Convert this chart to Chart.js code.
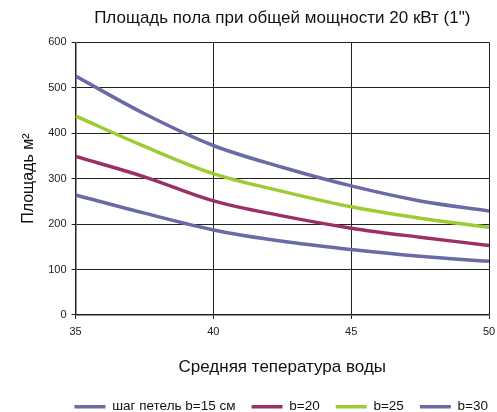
<!DOCTYPE html>
<html>
<head>
<meta charset="utf-8">
<script src="https://cdn.jsdelivr.net/npm/chart.js@4"></script>
<style>
  body { margin: 0; background: #fff; }
  #wrap { width: 497px; height: 412px; }
</style>
</head>
<body>
<div id="wrap"><canvas id="chart"></canvas></div>
<script>
const temps = [35, 37.5, 40, 42.5, 45, 47.5, 50];
const b15 = [264, 224, 187, 162, 144, 129, 118];
const b20 = [349, 304, 251, 218, 191, 171, 153];
const b25 = [438, 371, 311, 272, 238, 213, 193];
const b30 = [526, 443, 373, 325, 284, 251, 229];
const seriesNames = ['шаг петель b=15 см', 'b=20', 'b=25', 'b=30'];
const colors = ['#6a6aa6', '#9b2f66', '#9ccc33', '#6a6aa6'];

const FONT = 'Liberation Sans, Arial, sans-serif';

function toXY(vals){
  return vals.map((v, i) => ({x: temps[i], y: v}));
}

// legend sits lower and further right than the layout would put it
const legendShift = {
  id: 'legendShift',
  afterLayout(chart){
    const lg = chart.legend;
    if (!lg) return;
    const h = lg.bottom - lg.top;
    lg.top = 384;
    lg.bottom = 384 + h;
    lg.left += 15;
    lg.right += 15;
  }
};

const ctx = document.getElementById('chart').getContext('2d');
new Chart(ctx, {
  type: 'line',
  data: {
    datasets: [b15, b20, b25, b30].map((s, i) => ({
      label: seriesNames[i],
      data: toXY(s),
      borderColor: colors[i],
      backgroundColor: colors[i],
      borderWidth: 3.5,
      tension: 0.35,
      pointRadius: 0,
      fill: false
    }))
  },
  options: {
    animation: false,
    responsive: true,
    maintainAspectRatio: false,
    layout: { padding: { left: 19, right: 8, top: 4, bottom: -22 } },
    plugins: {
      title: {
        display: true,
        fullSize: false,
        text: 'Площадь пола при общей мощности 20 кВт (1")',
        color: '#111',
        font: { family: FONT, size: 17, weight: 'normal' },
        padding: { top: 4, bottom: 14 }
      },
      legend: {
        position: 'bottom',
        align: 'end',
        labels: {
          usePointStyle: true,
          pointStyle: 'line',
          pointStyleWidth: 31,
          boxWidth: 31,
          color: '#111',
          font: { family: FONT, size: 13.5 },
          padding: 16
        }
      },
      tooltip: { enabled: false }
    },
    scales: {
      x: {
        type: 'linear',
        min: 35, max: 50,
        afterFit(scale){ scale.paddingRight = 0; },
        ticks: { stepSize: 5, color: '#222', font: { family: FONT, size: 11 }, padding: 6 },
        grid: { color: '#222', lineWidth: 1, tickLength: 4 },
        border: { color: '#222', width: 1.5 },
        title: {
          display: true,
          text: 'Средняя тепература воды',
          color: '#111',
          font: { family: FONT, size: 17 },
          padding: { top: 13, bottom: 17 }
        }
      },
      y: {
        min: 0, max: 600,
        ticks: { stepSize: 100, color: '#222', font: { family: FONT, size: 11 }, padding: 5 },
        grid: { color: '#222', lineWidth: 1, tickLength: 4 },
        border: { color: '#222', width: 1.5 },
        title: {
          display: true,
          text: 'Площадь м²',
          color: '#111',
          font: { family: FONT, size: 16 },
          padding: { top: 0, bottom: 5 }
        }
      }
    }
  },
  plugins: [legendShift]
});
</script>
</body>
</html>
